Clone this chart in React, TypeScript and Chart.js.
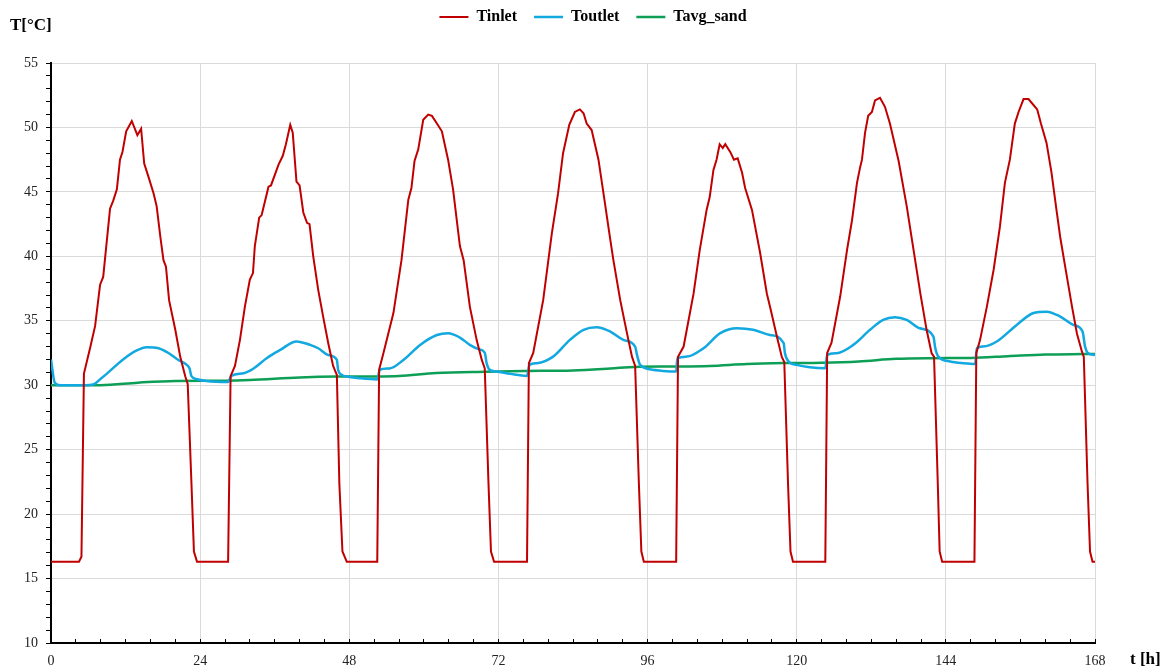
import React, { useEffect, useRef } from 'react';
import { Chart, registerables } from 'chart.js';

Chart.register(...registerables);

// ---------- data (hours, °C) ----------
const tinletHours = [
  0, 4.5, 4.9, 5.3, 6.3, 7.1, 7.9, 8.4, 9.5, 10.0, 10.6, 11.1, 11.5, 12.1, 13.0, 13.9, 14.5, 15.0, 15.6, 16.5, 17.0, 17.6, 18.1, 18.5, 19.0, 20.0, 20.8, 21.6, 22.0, 22.6, 23.0, 23.5,
  28.5, 28.9, 29.6, 30.4, 31.2, 32.0, 32.5, 32.8, 33.5, 33.9, 35.0, 35.4, 36.6, 37.3, 37.8, 38.5, 38.9, 39.5, 40.0, 40.6, 41.2, 41.6, 42.2, 43.0, 43.8, 44.6, 45.4, 46.0, 46.4, 46.9, 47.6,
  52.5, 52.8, 53.5, 55.1, 56.4, 57.5, 58.0, 58.5, 59.1, 59.9, 60.7, 61.3, 62.1, 62.9, 63.9, 64.7, 65.8, 66.4, 67.4, 68.5, 69.3, 69.8, 70.4, 70.8, 71.3,
  76.6, 76.9, 77.6, 79.2, 80.6, 81.6, 82.4, 83.4, 84.3, 85.1, 85.7, 86.2, 87.0, 88.1, 88.9, 90.0, 90.5, 91.6, 92.7, 93.5, 94.0, 94.6, 95.0, 95.4,
  100.6, 100.9, 101.8, 103.4, 104.4, 105.5, 106.0, 106.6, 107.1, 107.6, 108.1, 108.5, 109.3, 109.9, 110.5, 111.2, 111.7, 112.8, 114.1, 115.2, 115.8, 116.8, 117.6, 118.0, 118.6, 119.0, 119.4,
  124.6, 124.9, 125.6, 127.0, 128.1, 128.9, 129.7, 130.2, 130.5, 131.0, 131.5, 132.1, 132.6, 133.4, 134.2, 135.0, 136.4, 137.7, 138.8, 139.9, 140.9, 141.7, 142.1, 142.7, 143.0, 143.4,
  148.6, 148.9, 149.5, 150.6, 151.7, 152.7, 153.5, 154.3, 155.1, 155.7, 156.5, 157.3, 158.0, 158.7, 159.3, 160.2, 161.0, 161.8, 162.4, 163.2, 164.3, 165.1, 165.9, 166.2, 166.8, 167.2, 167.6, 168,
];
const tinletTemps = [
  16.3, 16.3, 16.7, 30.9, 32.9, 34.6, 37.8, 38.4, 43.7, 44.3, 45.2, 47.5, 48.1, 49.7, 50.5, 49.4, 49.9, 47.2, 46.3, 44.9, 43.9, 41.5, 39.7, 39.2, 36.6, 34.3, 32.2, 30.7, 30.1, 22.4, 17.1, 16.3,
  16.3, 30.7, 31.5, 33.5, 36.1, 38.2, 38.7, 40.8, 43.0, 43.2, 45.4, 45.5, 47.1, 47.8, 48.7, 50.2, 49.6, 45.8, 45.5, 43.4, 42.6, 42.5, 40.0, 37.4, 35.3, 33.3, 31.5, 30.8, 22.4, 17.1, 16.3,
  16.3, 31.2, 32.5, 35.6, 39.7, 44.4, 45.3, 47.4, 48.3, 50.6, 51.0, 50.9, 50.3, 49.7, 47.5, 45.2, 40.8, 39.7, 36.1, 33.5, 32.0, 31.3, 22.4, 17.1, 16.3,
  16.3, 31.7, 32.5, 36.6, 41.8, 44.9, 48.0, 50.2, 51.2, 51.4, 51.1, 50.3, 49.8, 47.5, 44.9, 41.3, 39.7, 36.6, 34.0, 32.2, 31.5, 22.4, 17.1, 16.3,
  16.3, 32.2, 33.0, 37.1, 40.5, 43.6, 44.6, 46.7, 47.5, 48.7, 48.4, 48.7, 48.1, 47.5, 47.6, 46.5, 45.3, 43.6, 40.3, 37.1, 35.9, 33.8, 32.2, 31.8, 22.4, 17.1, 16.3,
  16.3, 32.5, 33.3, 36.9, 40.5, 42.8, 45.7, 46.9, 47.5, 49.6, 50.9, 51.2, 52.1, 52.3, 51.6, 50.3, 47.4, 43.9, 40.5, 37.1, 34.3, 32.5, 32.2, 22.4, 17.1, 16.3,
  16.3, 32.5, 33.5, 36.1, 39.0, 42.3, 45.7, 47.5, 50.3, 51.2, 52.2, 52.2, 51.8, 51.4, 50.3, 48.8, 46.5, 43.6, 41.5, 39.2, 36.1, 34.0, 32.6, 32.2, 22.4, 17.1, 16.3, 16.3,
];

const toutletHours = [
  0, 0.6, 1.5, 5.5, 6.8, 8.0, 9.0, 11.6, 13.8, 15.4, 17.3, 18.9, 20.5, 21.8, 22.3, 22.6, 23.5, 25.0, 28.5,
  29.0, 31.0, 32.6, 34.7, 36.9, 39.5, 41.7, 43.0, 44.6, 46.0, 46.2, 46.8, 47.6, 49.7, 52.5,
  52.9, 54.5, 56.7, 59.4, 62.1, 63.9, 65.8, 67.4, 68.8, 69.8, 70.1, 70.6, 71.7, 73.9, 76.6,
  77.0, 78.2, 80.8, 83.5, 85.7, 87.8, 90.0, 92.1, 94.0, 94.3, 94.8, 96.4, 98.5, 100.6,
  100.8, 102.3, 105.0, 107.7, 110.4, 113.0, 115.7, 117.9, 118.1, 118.7, 120.0, 122.1, 124.6,
  124.9, 126.4, 129.1, 131.8, 133.9, 135.8, 137.7, 139.8, 142.0, 142.3, 142.8, 144.7, 146.8, 148.7,
  149.0, 150.0, 152.2, 155.4, 158.1, 160.2, 162.4, 164.5, 166.0, 166.4, 166.9, 168.0,
];
const toutletTemps = [
  32.0, 30.2, 30.0, 30.0, 30.05, 30.5, 30.9, 32.0, 32.7, 32.95, 32.87, 32.5, 31.96, 31.6, 31.3, 30.7, 30.47, 30.33, 30.25,
  30.72, 30.93, 31.3, 32.1, 32.74, 33.4, 33.13, 32.87, 32.35, 31.96, 31.2, 30.8, 30.67, 30.54, 30.45,
  31.2, 31.3, 31.96, 33.13, 33.9, 34.04, 33.7, 33.13, 32.8, 32.53, 31.71, 31.19, 31.06, 30.88, 30.72,
  31.58, 31.71, 32.22, 33.52, 34.3, 34.5, 34.16, 33.52, 33.0, 32.35, 31.58, 31.24, 31.11, 31.06,
  32.1, 32.22, 32.87, 34.04, 34.42, 34.3, 33.9, 33.26, 32.5, 31.84, 31.58, 31.4, 31.32,
  32.35, 32.48, 33.13, 34.3, 35.07, 35.28, 35.07, 34.42, 33.77, 32.87, 32.22, 31.84, 31.71, 31.65,
  32.87, 33.0, 33.39, 34.68, 35.6, 35.71, 35.33, 34.68, 34.16, 33.0, 32.48, 32.35,
];

const sandHours = [0, 8, 14, 20, 28, 32, 40, 46, 52, 56, 62, 70, 76, 84, 90, 94, 100, 106, 112, 118, 124, 130, 136, 142, 148, 154, 160, 166, 168];
const sandTemps = [30.0, 30.0, 30.2, 30.33, 30.35, 30.4, 30.6, 30.67, 30.68, 30.72, 30.95, 31.05, 31.1, 31.15, 31.3, 31.42, 31.45, 31.5, 31.65, 31.72, 31.75, 31.85, 32.05, 32.1, 32.12, 32.25, 32.38, 32.42, 32.43];

const seriesNames = ['Tinlet', 'Toutlet', 'Tavg_sand'];
const seriesColors = ['#C00000', '#12A8E0', '#0E9F57'];

const xMajorTicks = [0, 24, 48, 72, 96, 120, 144, 168];
const yMajorTicks = [10, 15, 20, 25, 30, 35, 40, 45, 50, 55];

const toPoints = (xs: number[], ys: number[]) => xs.map((x, i) => ({ x, y: ys[i] }));

const SERIF = '"Liberation Serif", "Times New Roman", serif';

const legendFix = {
  id: 'legendFix',
  beforeLayout(chart: any) {
    const lg = chart.legend;
    if (lg && !lg.__fixed) {
      const fit = lg.fit.bind(lg);
      lg.fit = function () {
        fit();
        this.height = 63;
      };
      lg.__fixed = true;
    }
  },
  afterLayout(chart: any) {
    const lg = chart.legend;
    if (lg) {
      const shift = 593 - (lg.left + lg.right) / 2;
      lg.left += shift;
      lg.right += shift;
      const pad = lg.options.labels.padding;
      lg.top = 17 - 8 - pad;
    }
  },
};

const axisTitles = {
  id: 'axisTitles',
  afterDraw(chart: any) {
    const { ctx, chartArea } = chart;
    ctx.save();
    ctx.font = 'bold 17px ' + SERIF;
    ctx.fillStyle = '#000';
    ctx.textBaseline = 'middle';
    ctx.textAlign = 'left';
    ctx.fillText('T[°C]', 10, 26);
    ctx.fillText('t [h]', chartArea.right + 35, chartArea.bottom + 17);
    ctx.restore();
  },
};

export default function App() {
  const canvasRef = useRef<HTMLCanvasElement | null>(null);

  useEffect(() => {
    if (!canvasRef.current) return;
    const chart = new Chart(canvasRef.current, {
      type: 'line',
      data: {
        datasets: [
          {
            label: seriesNames[0],
            data: toPoints(tinletHours, tinletTemps),
            borderColor: seriesColors[0],
            backgroundColor: seriesColors[0],
            borderWidth: 2,
            pointRadius: 0,
            tension: 0,
          },
          {
            label: seriesNames[1],
            data: toPoints(toutletHours, toutletTemps),
            borderColor: seriesColors[1],
            backgroundColor: seriesColors[1],
            borderWidth: 2.5,
            pointRadius: 0,
            cubicInterpolationMode: 'monotone',
          },
          {
            label: seriesNames[2],
            data: toPoints(sandHours, sandTemps),
            borderColor: seriesColors[2],
            backgroundColor: seriesColors[2],
            borderWidth: 2.5,
            pointRadius: 0,
            cubicInterpolationMode: 'monotone',
          },
        ],
      },
      options: {
        animation: false,
        responsive: true,
        maintainAspectRatio: false,
        layout: { padding: { left: 0, right: 71, top: 0, bottom: 0 } },
        plugins: {
          legend: {
            display: true,
            position: 'top',
            labels: {
              usePointStyle: true,
              pointStyle: 'line',
              pointStyleWidth: 29,
              padding: 17,
              color: '#000',
              font: { family: SERIF, size: 16, weight: 'bold' },
            },
          },
          tooltip: { enabled: false },
          title: { display: false },
        },
        scales: {
          x: {
            type: 'linear',
            min: 0,
            max: 168,
            afterFit: (s: any) => {
              s.height = 29;
            },
            ticks: {
              stepSize: 4,
              autoSkip: false,
              maxRotation: 0,
              padding: 14,
              color: '#222',
              font: { family: SERIF, size: 14 },
              callback: (v: any) => (xMajorTicks.includes(Number(v)) ? String(v) : ''),
            },
            grid: {
              color: (c: any) => (c.tick && xMajorTicks.includes(c.tick.value) ? '#DADADA' : 'rgba(0,0,0,0)'),
              tickColor: '#000',
              tickLength: -4,
              lineWidth: 1,
            },
            border: { color: '#000', width: 2 },
          },
          y: {
            type: 'linear',
            min: 10,
            max: 55,
            afterFit: (s: any) => {
              s.width = 51;
            },
            ticks: {
              stepSize: 1,
              autoSkip: false,
              padding: 8,
              color: '#222',
              font: { family: SERIF, size: 14 },
              callback: (v: any) => (yMajorTicks.includes(Number(v)) ? String(v) : ''),
            },
            grid: {
              color: (c: any) => (c.tick && yMajorTicks.includes(c.tick.value) ? '#DADADA' : 'rgba(0,0,0,0)'),
              tickColor: '#000',
              tickLength: 5,
              lineWidth: 1,
            },
            border: { color: '#000', width: 2 },
          },
        },
      },
      plugins: [legendFix, axisTitles],
    } as any);
    return () => chart.destroy();
  }, []);

  return (
    <div style={{ position: 'absolute', left: 0, top: 0, width: 1166, height: 672, background: '#fff' }}>
      <canvas ref={canvasRef} />
    </div>
  );
}
